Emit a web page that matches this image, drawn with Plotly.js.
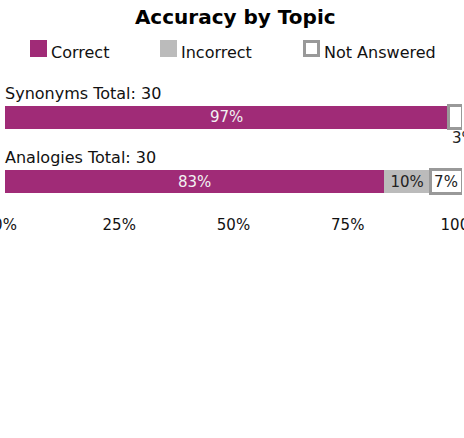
<!DOCTYPE html>
<html>
<head>
<meta charset="utf-8">
<script src="https://cdn.plot.ly/plotly-3.0.1.min.js"></script>
<style>html,body{margin:0;padding:0;background:#fff;}#chart{width:464px;height:438px;}</style>
</head>
<body>
<div id="chart"></div>
<script>
const topics = ["Synonyms", "Analogies"];
const totals = [30, 30];
const seriesNames = ["Correct", "Incorrect", "Not Answered"];
const correct = [97, 83];
const incorrect = [0, 10];
const notAnswered = [3, 7];
const tickVals = [0, 25, 50, 75, 100];
const tickText = ["0%", "25%", "50%", "75%", "100%"];

const FONT = "DejaVu Sans, Verdana, sans-serif";
const fills = ["#A02B77", "#BBBBBB", "#FFFFFF"];
const lines = ["#A02B77", "#BBBBBB", "#999999"];
const lineW = [0, 0, 3];
const txtCol = ["#F2F2F2", "#222222", "#222222"];
const values = [correct, incorrect, notAnswered];
const MIN_INSIDE = 5; // segments narrower than this get their label below the bar

const annotations = [];
const traces = values.map((vals, i) => ({
  type: "bar",
  orientation: "h",
  name: seriesNames[i],
  y: topics,
  x: vals,
  text: vals.map(v => (v >= MIN_INSIDE) ? v + "%" : ""),
  textposition: "inside",
  insidetextanchor: "middle",
  textfont: {family: FONT, size: 15, color: txtCol[i]},
  insidetextfont: {family: FONT, size: 15, color: txtCol[i]},
  constraintext: "none",
  marker: {color: fills[i], line: {color: lines[i], width: lineW[i]}},
  hoverinfo: "skip",
  showlegend: false
}));

// labels for segments too thin to hold text: placed under the segment end
topics.forEach((t, j) => {
  let cum = 0;
  values.forEach((vals, i) => {
    cum += vals[j];
    if (vals[j] > 0 && vals[j] < MIN_INSIDE) {
      annotations.push({
        x: cum, xref: "x", y: t, yref: "y", yshift: -21, xshift: 2,
        text: vals[j] + "%", showarrow: false, xanchor: "center", yanchor: "middle",
        font: {family: FONT, size: 15, color: "#222"}
      });
    }
  });
});

topics.forEach((t, i) => annotations.push({
  x: 0, xref: "x", y: t, yref: "y",
  text: t + " Total: " + totals[i],
  showarrow: false, xanchor: "left", yanchor: "middle",
  xshift: -2, yshift: 24,
  font: {family: FONT, size: 16, color: "#111"}
}));

// custom legend (swatch + label) built from series names
const legX = [25, 155, 298]; // pixel offsets from plot's left edge
const shapes = [];
seriesNames.forEach((n, i) => {
  const w = lineW[i];
  shapes.push({
    type: "rect", xref: "paper", yref: "paper",
    xsizemode: "pixel", ysizemode: "pixel", xanchor: 0, yanchor: 1,
    x0: legX[i] + w / 2, x1: legX[i] + 17 - w / 2,
    y0: 28 + w / 2, y1: 45 - w / 2,
    fillcolor: fills[i], line: {color: lines[i], width: w}
  });
  annotations.push({
    x: 0, xref: "paper", y: 1, yref: "paper",
    xshift: legX[i] + 19, yshift: 33,
    text: n, showarrow: false, xanchor: "left", yanchor: "middle",
    font: {family: FONT, size: 16, color: "#111"}
  });
});

const layout = {
  width: 464, height: 438,
  margin: {l: 5, r: 2, t: 85, b: 221},
  paper_bgcolor: "#fff", plot_bgcolor: "#fff",
  title: {text: "<b>Accuracy by Topic</b>", font: {family: FONT, size: 20, color: "#000"},
          x: 0.507, xref: "container", y: 1 - 17 / 438, yref: "container", yanchor: "middle"},
  barmode: "stack",
  bargap: 0.64,
  showlegend: false,
  xaxis: {range: [0, 100], tickvals: tickVals, ticktext: tickText, showgrid: false, zeroline: false,
          showline: false, ticks: "", fixedrange: true, ticklabeloverflow: "allow",
          ticklabelstandoff: -3,
          tickfont: {family: FONT, size: 15, color: "#111"}},
  yaxis: {autorange: "reversed", showticklabels: false, showgrid: false, zeroline: false,
          showline: false, ticks: "", fixedrange: true},
  annotations: annotations,
  shapes: shapes,
  font: {family: FONT}
};

Plotly.newPlot("chart", traces, layout, {displayModeBar: false, staticPlot: true});
</script>
</body>
</html>
